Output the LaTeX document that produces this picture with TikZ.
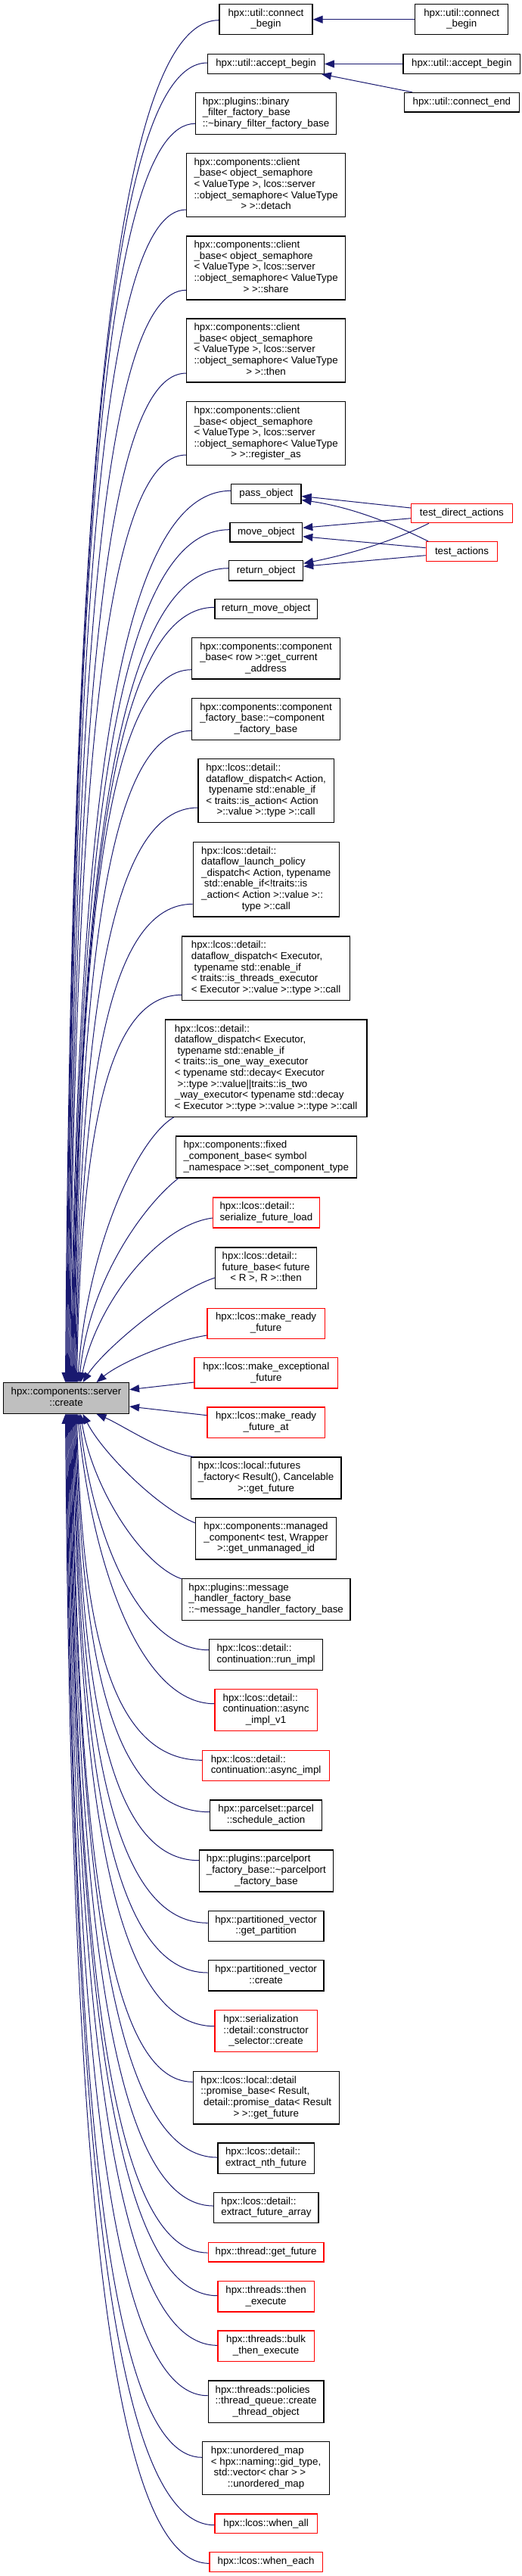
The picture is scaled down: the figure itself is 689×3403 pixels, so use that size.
\documentclass[tikz,border=0pt]{standalone}
\usepackage{fontspec}
\setmainfont{Liberation Sans}
\usetikzlibrary{arrows.meta,calc}
\definecolor{edgeblue}{RGB}{25,25,112}
\definecolor{boxgray}{RGB}{191,191,191}
\newcommand\dl[2]{\begin{tabular}{@{}l@{}}#1\\\multicolumn{1}{@{}c@{}}{#2}\end{tabular}}
\newcommand\cl[1]{\begin{tabular}{@{}c@{}}#1\end{tabular}}
\newcommand\semlab[1]{\dl{hpx::components::client\\\_base< object\_semaphore\\< ValueType >, lcos::server\\::object\_semaphore< ValueType}{> >::#1}}
\begin{document}
\begin{tikzpicture}[x=1pt,y=-1pt,
 box/.style={draw=black, line width=1.2pt, fill=white, inner sep=0pt, font=\fontsize{13.3}{14.6}\selectfont},
 rbox/.style={box, draw=red},
 wh/.style 2 args={minimum width=#1pt, minimum height=#2pt},
 edge/.style={draw=edgeblue, line width=1pt, -{Triangle[length=13pt,width=10pt]}}]
\fill[white] (0,0) rectangle (689,3403);
\useasboundingbox (0,0) rectangle (689,3403);
% nodes
\node[box,wh={123}{40}] (cbm) at (351.5,25.7) {\dl{hpx::util::connect}{\_begin}};
\node[box,wh={123.2}{40}] (cbr) at (610.2,25.7) {\dl{hpx::util::connect}{\_begin}};
\node[box,wh={153.7}{25.6}] (abm) at (351.5,84.5) {hpx::util::accept\_begin};
\node[box,wh={154.7}{25.6}] (abr) at (610.3,84.5) {hpx::util::accept\_begin};
\node[box,wh={152}{25.7}] (cer) at (610.4,135.2) {hpx::util::connect\_end};
\node[box,wh={186}{54.6}] (bff) at (351.5,150) {\dl{hpx::plugins::binary\\\_filter\_factory\_base}{::\textasciitilde binary\_filter\_factory\_base}};
\node[box,wh={210.2}{84.4}] (sdet) at (351.6,244.5) {\semlab{detach}};
\node[box,wh={210.2}{84}] (sshr) at (351.6,354) {\semlab{share}};
\node[box,wh={210.2}{84}] (sthn) at (351.6,463) {\semlab{then}};
\node[box,wh={210.2}{84}] (sreg) at (351.6,572.7) {\semlab{register\_as}};
\node[box,wh={92.3}{25.6}] (pass) at (351.9,652.5) {pass\_object};
\node[box,wh={95.8}{25.6}] (move) at (351.8,703.2) {move\_object};
\node[box,wh={98}{26.3}] (ret) at (351.6,753.8) {return\_object};
\node[box,wh={135.2}{25.6}] (rmo) at (351.6,804.5) {return\_move\_object};
\node[box,wh={196}{54.3}] (gca) at (351.5,869.8) {\dl{hpx::components::component\\\_base< row >::get\_current}{\_address}};
\node[box,wh={196}{54.6}] (cfb) at (351.5,950) {\dl{hpx::components::component\\\_factory\_base::\textasciitilde component}{\_factory\_base}};
\node[box,wh={179.3}{84}] (dfa) at (351.6,1044.7) {\dl{hpx::lcos::detail::\\dataflow\_dispatch< Action,\\\ typename std::enable\_if\\< traits::is\_action< Action}{>::value >::type >::call}};
\node[box,wh={193}{98.7}] (dlp) at (351.8,1161.7) {\dl{hpx::lcos::detail::\\dataflow\_launch\_policy\\\_dispatch< Action, typename\\\ std::enable\_if<!traits::is\\\_action< Action >::value >::}{type >::call}};
\node[box,wh={221.8}{84.3}] (dfe) at (351.6,1279.2) {\dl{hpx::lcos::detail::\\dataflow\_dispatch< Executor,\\\ typename std::enable\_if\\< traits::is\_threads\_executor}{< Executor >::value >::type >::call}};
\node[box,wh={266.8}{128.3}] (dfo) at (351.6,1411.2) {\dl{hpx::lcos::detail::\\dataflow\_dispatch< Executor,\\\ typename std::enable\_if\\< traits::is\_one\_way\_executor\\< typename std::decay< Executor\\\ >::type >::value||traits::is\_two\\\_way\_executor< typename std::decay}{< Executor >::type >::value >::type >::call}};
\node[box,wh={239}{55}] (fcb) at (351.8,1528.5) {\dl{hpx::components::fixed\\\_component\_base< symbol}{\_namespace >::set\_component\_type}};
\node[rbox,wh={141}{40}] (sfl) at (351.9,1602) {\dl{hpx::lcos::detail::}{serialize\_future\_load}};
\node[box,wh={134.2}{54.7}] (fbt) at (351.6,1675.3) {\dl{hpx::lcos::detail::\\future\_base< future}{< R >, R >::then}};
\node[rbox,wh={155.4}{40}] (mrf) at (351.6,1748.3) {\dl{hpx::lcos::make\_ready}{\_future}};
\node[rbox,wh={189.6}{40.3}] (mef) at (351.8,1813.8) {\dl{hpx::lcos::make\_exceptional}{\_future}};
\node[rbox,wh={155.4}{40.3}] (mrfa) at (351.6,1879.2) {\dl{hpx::lcos::make\_ready}{\_future\_at}};
\node[box,wh={198.8}{55}] (ff) at (351.6,1952.5) {\dl{hpx::lcos::local::futures\\\_factory< Result(), Cancelable}{>::get\_future}};
\node[box,wh={185.5}{55.3}] (mc) at (351.6,2032.3) {\dl{hpx::components::managed\\\_component< test, Wrapper}{>::get\_unmanaged\_id}};
\node[box,wh={222.7}{55}] (mh) at (351.7,2112.8) {\dl{hpx::plugins::message\\\_handler\_factory\_base}{::\textasciitilde message\_handler\_factory\_base}};
\node[box,wh={150.2}{40.6}] (ri) at (351.6,2186) {\dl{hpx::lcos::detail::}{continuation::run\_impl}};
\node[rbox,wh={135.2}{54.6}] (aiv) at (351.6,2259) {\dl{hpx::lcos::detail::\\continuation::async}{\_impl\_v1}};
\node[rbox,wh={167.8}{40}] (ai) at (351.6,2332.7) {\dl{hpx::lcos::detail::}{continuation::async\_impl}};
\node[box,wh={147.6}{40}] (sa) at (351.6,2398) {\dl{hpx::parcelset::parcel}{::schedule\_action}};
\node[box,wh={177.1}{55}] (pfb) at (351.9,2471.5) {\dl{hpx::plugins::parcelport\\\_factory\_base::\textasciitilde parcelport}{\_factory\_base}};
\node[box,wh={152.8}{40}] (gp) at (351.6,2544.7) {\dl{hpx::partitioned\_vector}{::get\_partition}};
\node[box,wh={152.8}{40.3}] (pvc) at (351.6,2609.8) {\dl{hpx::partitioned\_vector}{::create}};
\node[rbox,wh={135.2}{55}] (cs) at (351.6,2683.2) {\dl{hpx::serialization\\::detail::constructor}{\_selector::create}};
\node[box,wh={193}{69.3}] (pb) at (351.8,2771.3) {\dl{hpx::lcos::local::detail\\::promise\_base< Result,\\\ detail::promise\_data< Result}{> >::get\_future}};
\node[box,wh={127.2}{40.3}] (enf) at (351.6,2851.2) {\dl{hpx::lcos::detail::}{extract\_nth\_future}};
\node[box,wh={138.3}{40}] (efa) at (351.9,2916.7) {\dl{hpx::lcos::detail::}{extract\_future\_array}};
\node[rbox,wh={152.8}{25.3}] (tgf) at (351.6,2975.3) {hpx::thread::get\_future};
\node[rbox,wh={127.2}{40.3}] (te) at (351.6,3033.8) {\dl{hpx::threads::then}{\_execute}};
\node[rbox,wh={127.2}{40.3}] (bte) at (351.6,3099.2) {\dl{hpx::threads::bulk}{\_then\_execute}};
\node[box,wh={152.8}{55.3}] (tq) at (351.6,3172.7) {\dl{hpx::threads::policies\\::thread\_queue::create}{\_thread\_object}};
\node[box,wh={167.8}{69.6}] (um) at (351.6,3260.5) {\dl{hpx::unordered\_map\\< hpx::naming::gid\_type,\\\ std::vector< char > >}{::unordered\_map}};
\node[rbox,wh={135.2}{25.7}] (wa) at (351.6,3333.8) {hpx::lcos::when\_all};
\node[rbox,wh={149.2}{25.6}] (we) at (351.6,3384.5) {hpx::lcos::when\_each};
\node[rbox,wh={133.4}{25.4}] (tda) at (610.4,678) {test\_direct\_actions};
\node[rbox,wh={94.5}{25.6}] (ta) at (610.5,728.5) {test\_actions};
\node[box,fill=boxgray,wh={166}{40.6}] (create) at (87.5,1847) {\cl{hpx::components::server\\::create}};
% right-hand edges
\draw[edge] (cbr.west) -- (cbm.east);
\draw[edge] (abr.west) -- (abm.east);
\draw[edge] ($(cer.north west)+(11,0)$) -- ($(abm.south east)+(-4,0)$);
\draw[edge] ($(tda.west)+(0,-7)$) -- ($(pass.east)+(0,3)$);
\draw[edge] ($(tda.west)+(0,6.7)$) -- ($(move.east)+(0,-5.9)$);
\draw[edge] ($(tda.south west)+(23.9,0)$) .. controls +(-40,20) and +(70,-14) .. ($(ret.east)+(0,-9.5)$);
\draw[edge] ($(ta.north west)+(3.5,0)$) .. controls +(-40,-20) and +(70,10) .. ($(pass.east)+(0,8)$);
\draw[edge] ($(ta.west)+(0,-4.8)$) -- ($(move.east)+(0,5.5)$);
\draw[edge] ($(ta.west)+(0,5.2)$) -- ($(ret.east)+(0,-5.5)$);
% edges into create from above
\draw[edge] ($(cbm.west)+(0,1)$) .. controls +(-142.1,0) and +(8.1,-1170) .. ($(create.north west)+(82.6,0)$);
\draw[edge] ($(abm.west)+(0,-1.5)$) .. controls +(-130.7,0) and +(7.5,-1133.4) .. ($(create.north west)+(83.6,0)$);
\draw[edge] ($(bff.west)+(0,13.3)$) .. controls +(-118.6,0) and +(6.8,-1081.2) .. ($(create.north west)+(84.6,0)$);
\draw[edge] ($(sdet.west)+(0,32.5)$) .. controls +(-109.6,0) and +(6.3,-1007.3) .. ($(create.north west)+(85.6,0)$);
\draw[edge] ($(sshr.west)+(0,29.3)$) .. controls +(-108.9,0) and +(6.2,-938.2) .. ($(create.north west)+(86.6,0)$);
\draw[edge] ($(sthn.west)+(0,30)$) .. controls +(-108.2,0) and +(6.2,-866.9) .. ($(create.north west)+(87.6,0)$);
\draw[edge] ($(sreg.west)+(0,28.3)$) .. controls +(-107.5,0) and +(6.1,-796.7) .. ($(create.north west)+(88.6,0)$);
\draw[edge] ($(pass.west)+(0,-4.2)$) .. controls +(-148.2,0) and +(8.5,-766) .. ($(create.north west)+(89.6,0)$);
\draw[edge] ($(move.west)+(0,-3.5)$) .. controls +(-146.2,0) and +(8.4,-732.6) .. ($(create.north west)+(90.6,0)$);
\draw[edge] ($(ret.west)+(0,-3.1)$) .. controls +(-144.6,0) and +(8.3,-699.4) .. ($(create.north west)+(91.6,0)$);
\draw[edge] ($(rmo.west)+(0,-2.2)$) .. controls +(-130.9,0) and +(7.5,-665.9) .. ($(create.north west)+(92.6,0)$);
\draw[edge] ($(gca.west)+(0,14.9)$) .. controls +(-108.9,0) and +(6.2,-612.3) .. ($(create.north west)+(93.6,0)$);
\draw[edge] ($(cfb.west)+(0,15.3)$) .. controls +(-108.2,0) and +(6.2,-559.9) .. ($(create.north west)+(94.6,0)$);
\draw[edge] ($(dfa.west)+(0,22.3)$) .. controls +(-113.4,0) and +(6.5,-493.8) .. ($(create.north west)+(95.6,0)$);
\draw[edge] ($(dlp.west)+(0,32.6)$) .. controls +(-108,0) and +(6.2,-411.1) .. ($(create.north west)+(96.6,0)$);
\draw[edge] ($(dfe.west)+(0,35.1)$) .. controls +(-97.1,0) and +(5.5,-333.1) .. ($(create.north west)+(97.6,0)$);
\draw[edge] ($(dfo.south west)+(12,0)$) .. controls +(-50,30) and +(12.7,-175.7) .. ($(create.north west)+(98.6,0)$);
\draw[edge] ($(fcb.south west)+(4,0)$) .. controls +(-45,35) and +(13,-135) .. ($(create.north west)+(100.6,0)$);
\draw[edge] ($(sfl.west)+(0,7)$) .. controls +(-75,10) and +(20,-100) .. ($(create.north west)+(102.6,0)$);
\draw[edge] ($(fbt.west)+(0,12.7)$) .. controls +(-60,20) and +(25,-40) .. ($(create.north west)+(105.6,0)$);
\draw[edge] ($(mrf.west)+(0,15.7)$) .. controls +(-50,8) and +(30,-25) .. ($(create.north west)+(123.6,0)$);
% edges into create from the side
\draw[edge] ($(mef.west)+(0,12.2)$) -- ($(create.east)+(0,-11.3)$);
\draw[edge] ($(mrfa.west)+(0,-9.5)$) -- ($(create.east)+(0,11)$);
% edges into create from below
\draw[edge] ($(ff.north west)+(4,0)$) .. controls +(-40,-5) and +(35,15) .. ($(create.south west)+(123.6,0)$);
\draw[edge] ($(mc.west)+(0,-20.3)$) .. controls +(-50,-20) and +(25,50) .. ($(create.south west)+(105.6,0)$);
\draw[edge] ($(mh.north west)+(0,1)$) .. controls +(-55,-20) and +(15,95) .. ($(create.south west)+(102.6,0)$);
\draw[edge] ($(ri.west)+(0,-6.3)$) .. controls +(-94,0) and +(17,156) .. ($(create.south west)+(100.6,0)$);
\draw[edge] ($(aiv.west)+(0,-8.3)$) .. controls +(-100,0) and +(18,192) .. ($(create.south west)+(98.6,0)$);
\draw[edge] ($(ai.west)+(0,-7.4)$) .. controls +(-116,0) and +(6.6,297.7) .. ($(create.south west)+(97.6,0)$);
\draw[edge] ($(sa.west)+(0,-4.3)$) .. controls +(-123.8,0) and +(7.1,342.2) .. ($(create.south west)+(96.6,0)$);
\draw[edge] ($(pfb.west)+(0,-13.8)$) .. controls +(-114.3,0) and +(6.5,383.8) .. ($(create.south west)+(95.6,0)$);
\draw[edge] ($(gp.west)+(0,-4.4)$) .. controls +(-123.3,0) and +(7,437.5) .. ($(create.south west)+(94.6,0)$);
\draw[edge] ($(pvc.west)+(0,-3.8)$) .. controls +(-124,0) and +(7.1,480.2) .. ($(create.south west)+(93.6,0)$);
\draw[edge] ($(cs.west)+(0,-6.5)$) .. controls +(-130.9,0) and +(7.5,526.1) .. ($(create.south west)+(92.6,0)$);
\draw[edge] ($(pb.west)+(0,-21)$) .. controls +(-111.5,0) and +(6.4,574) .. ($(create.south west)+(91.6,0)$);
\draw[edge] ($(enf.west)+(0,-1.2)$) .. controls +(-135.1,0) and +(7.7,638.8) .. ($(create.south west)+(90.6,0)$);
\draw[edge] ($(efa.west)+(0,-2.7)$) .. controls +(-132.1,0) and +(7.5,680.4) .. ($(create.south west)+(89.6,0)$);
\draw[edge] ($(tgf.west)+(0,0.7)$) .. controls +(-127.5,0) and +(7.3,720.7) .. ($(create.south west)+(88.6,0)$);
\draw[edge] ($(te.west)+(0,-1.1)$) .. controls +(-137.2,0) and +(7.8,757.5) .. ($(create.south west)+(87.6,0)$);
\draw[edge] ($(bte.west)+(0,-0.9)$) .. controls +(-137.9,0) and +(7.9,800.2) .. ($(create.south west)+(86.6,0)$);
\draw[edge] ($(tq.west)+(0,-8)$) .. controls +(-129.6,0) and +(7.4,843.3) .. ($(create.south west)+(85.6,0)$);
\draw[edge] ($(um.west)+(0,-14.2)$) .. controls +(-125.1,0) and +(7.1,896.4) .. ($(create.south west)+(84.6,0)$);
\draw[edge] ($(wa.west)+(0,1.9)$) .. controls +(-137.2,0) and +(7.8,954.5) .. ($(create.south west)+(83.6,0)$);
\draw[edge] ($(we.west)+(0,1.8)$) .. controls +(-133,0) and +(7.6,987.4) .. ($(create.south west)+(82.6,0)$);
\end{tikzpicture}
\end{document}
